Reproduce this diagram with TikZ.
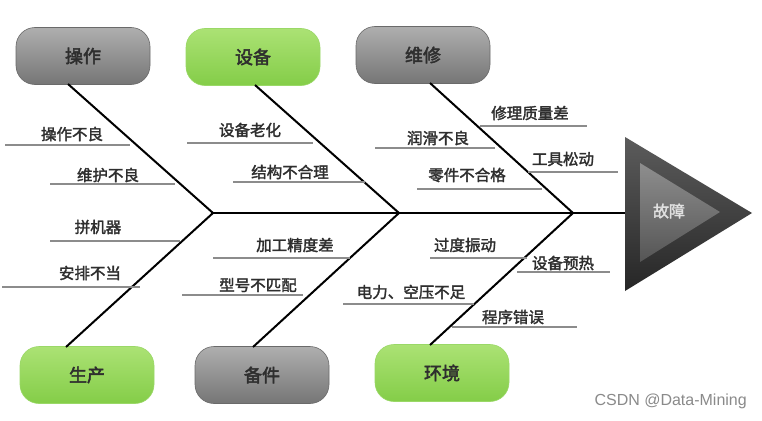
\documentclass[tikz,border=0pt]{standalone}
\usepackage{fontspec}
\newfontfamily\cjk[FakeBold=2]{Noto Sans CJK SC}
\newfontfamily\cjkh[FakeBold=2.6]{Noto Sans CJK SC}
\newfontfamily\wmfont{Liberation Sans}
\definecolor{grayA}{HTML}{AEAEAE}
\definecolor{grayB}{HTML}{767676}
\definecolor{grayE}{HTML}{6A6A6A}
\definecolor{greenA}{HTML}{ABE274}
\definecolor{greenB}{HTML}{84CD48}
\definecolor{greenE}{HTML}{9AD867}
\definecolor{txt}{HTML}{2E2E2E}
\definecolor{ulc}{HTML}{8C8C8C}
\definecolor{headA}{HTML}{5C5C5C}
\definecolor{headB}{HTML}{262626}
\definecolor{innerA}{HTML}{8E8E8E}
\definecolor{innerB}{HTML}{555555}
\definecolor{wmc}{HTML}{8A8A8A}
\begin{document}
\begin{tikzpicture}[x=1pt,y=-1pt,
  box/.style={rounded corners=19pt, minimum width=134pt, minimum height=57pt,
    inner sep=0pt, font=\cjkh\fontsize{18}{18}\selectfont, text=txt},
  graybox/.style={box, top color=grayA, bottom color=grayB, draw=grayE, line width=0.6pt},
  greenbox/.style={box, top color=greenA, bottom color=greenB, draw=greenE, line width=0.6pt},
  bone/.style={line width=2pt, black},
  spine/.style={line width=2.8pt, black},
  lbl/.style={font=\cjk\fontsize{15.5}{16}\selectfont, text=txt, inner sep=0pt},
  uline/.style={line width=1.2pt, ulc}]
\useasboundingbox (0,0) rectangle (762,420);
\fill[white] (0,0) rectangle (762,420);

% category boxes
\node[graybox]  (op) at (83,56)   {操作};
\node[greenbox] (eq) at (253,57)  {设备};
\node[graybox]  (mt) at (423,55)  {维修};
\node[greenbox] (pr) at (87,375)  {生产};
\node[graybox]  (sp) at (262,375) {备件};
\node[greenbox] (en) at (442,373) {环境};

% spine junctions and head
\coordinate (j1) at (213,213);
\coordinate (j2) at (399,213);
\coordinate (j3) at (573,213);
\coordinate (hl) at (625,213);

% bone start points on the boxes
\coordinate (b1) at (68,84);
\coordinate (b2) at (255,85);
\coordinate (b3) at (430,83);
\coordinate (b4) at (66,347);
\coordinate (b5) at (253,347);
\coordinate (b6) at (430,345);

% fish head
\shade[top color=headA, bottom color=headB] (625,137) -- (752,213) -- (625,291) -- cycle;
\shade[top color=innerA, bottom color=innerB] (640,163) -- (720,212) -- (640,262) -- cycle;
\node[font=\cjk\fontsize{16}{16}\selectfont, text=white!88!black, inner sep=0pt] (fault) at (669,211) {故障};

% spine and bones
\draw[spine] (j1) -- (hl);
\draw[bone] (b1) -- (j1);
\draw[bone] (b2) -- (j2);
\draw[bone] (b3) -- (j3);
\draw[bone] (b4) -- (j1);
\draw[bone] (b5) -- (j2);
\draw[bone] (b6) -- (j3);

% causes with underlines
\node[lbl] (c1) at (72,134) {操作不良};
\draw[uline] (5,145) -- (130,145);
\node[lbl] (c2) at (108,175) {维护不良};
\draw[uline] (50,184) -- (175,184);
\node[lbl] (c3) at (250,130) {设备老化};
\draw[uline] (187,143) -- (313,143);
\node[lbl] (c4) at (290,172) {结构不合理};
\draw[uline] (233,182) -- (365,182);
\node[lbl] (c5) at (530,113) {修理质量差};
\draw[uline] (480,126) -- (587,126);
\node[lbl] (c6) at (438,138) {润滑不良};
\draw[uline] (375,148) -- (495,148);
\node[lbl] (c7) at (563,159) {工具松动};
\draw[uline] (528,172) -- (618,172);
\node[lbl] (c8) at (467,175) {零件不合格};
\draw[uline] (417,189) -- (542,189);
\node[lbl] (c9) at (98,227) {拼机器};
\draw[uline] (50,241) -- (180,241);
\node[lbl] (c10) at (90,273) {安排不当};
\draw[uline] (2,287) -- (140,287);
\node[lbl] (c11) at (295,245) {加工精度差};
\draw[uline] (213,258) -- (350,258);
\node[lbl] (c12) at (258,285) {型号不匹配};
\draw[uline] (182,295) -- (303,295);
\node[lbl] (c13) at (465,245) {过度振动};
\draw[uline] (430,258) -- (527,258);
\node[lbl] (c14) at (563,263) {设备预热};
\draw[uline] (517,272) -- (610,272);
\node[lbl] (c15) at (411,292) {电力、空压不足};
\draw[uline] (343,304) -- (474,304);
\node[lbl] (c16) at (513,317) {程序错误};
\draw[uline] (452,327) -- (577,327);

% watermark
\node[anchor=east, font=\wmfont\fontsize{16}{16}\selectfont, text=wmc, inner sep=0pt] (wm) at (747,401) {CSDN @Data-Mining};
\end{tikzpicture}
\end{document}
